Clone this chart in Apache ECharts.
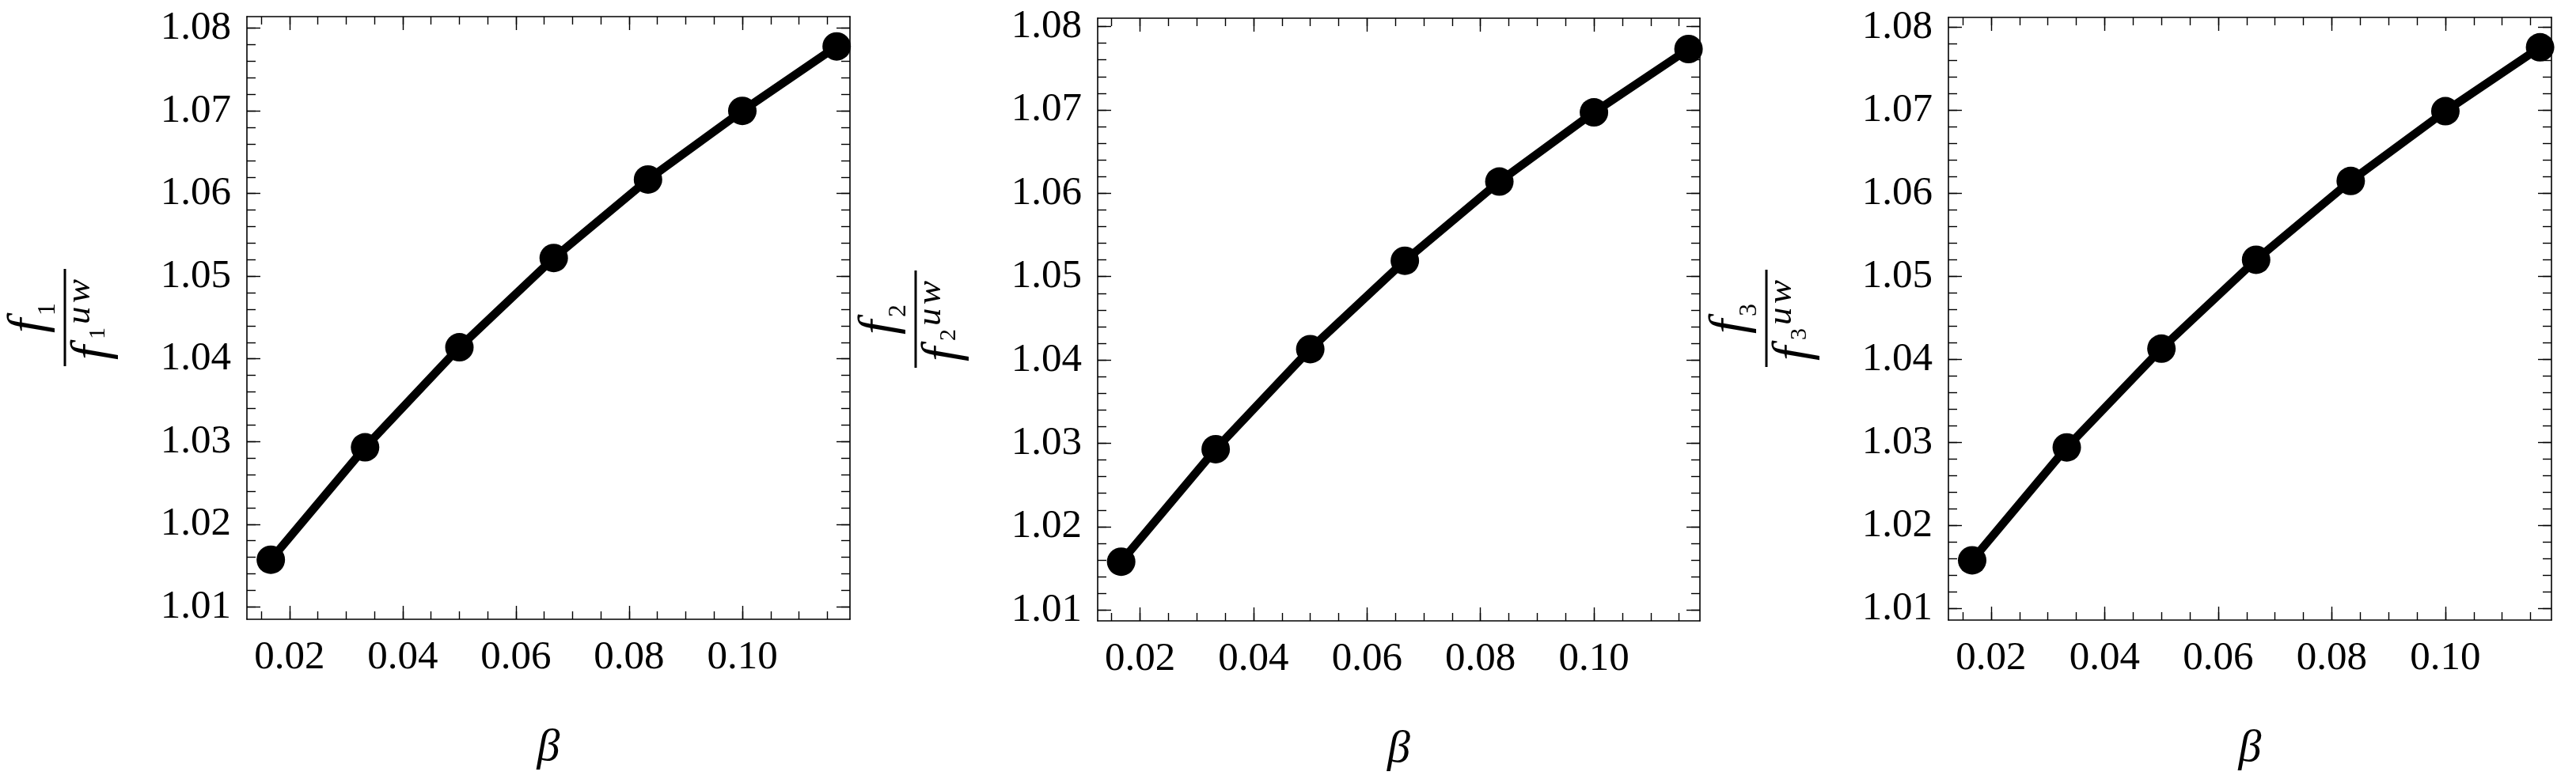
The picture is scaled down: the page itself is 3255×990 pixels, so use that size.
<!DOCTYPE html>
<html>
<head>
<meta charset="utf-8">
<script src="https://cdn.jsdelivr.net/npm/echarts@6/dist/echarts.min.js"></script>
<style>
html,body{margin:0;padding:0;background:#fff;}
#chart{width:3255px;height:990px;}
</style>
</head>
<body>
<div id="chart"></div>
<script>
// ---- data ----
const beta = [0.01667, 0.03333, 0.05, 0.06667, 0.08333, 0.10, 0.11667];
const f1Ratio = [1.0157, 1.0293, 1.0414, 1.0522, 1.0617, 1.0700, 1.0778];
const f2Ratio = [1.0158, 1.0293, 1.0413, 1.0519, 1.0614, 1.0697, 1.0773];
const f3Ratio = [1.0158, 1.0294, 1.0413, 1.0520, 1.0615, 1.0699, 1.0776];
const xMajorTicks = [0.02, 0.04, 0.06, 0.08, 0.10];
const xMinorTicks = [0.015, 0.02, 0.025, 0.03, 0.035, 0.04, 0.045, 0.05, 0.055, 0.06, 0.065,
  0.07, 0.075, 0.08, 0.085, 0.09, 0.095, 0.10, 0.105, 0.11, 0.115];
const yMajorTicks = [1.01, 1.02, 1.03, 1.04, 1.05, 1.06, 1.07, 1.08];
const yMinorTicks = [1.010, 1.012, 1.014, 1.016, 1.018, 1.020, 1.022, 1.024, 1.026, 1.028,
  1.030, 1.032, 1.034, 1.036, 1.038, 1.040, 1.042, 1.044, 1.046, 1.048,
  1.050, 1.052, 1.054, 1.056, 1.058, 1.060, 1.062, 1.064, 1.066, 1.068,
  1.070, 1.072, 1.074, 1.076, 1.078, 1.080];
const panelIndex = ['1', '2', '3'];
const xLabel = 'β';
const supLabel = ['u', 'w'];

// ---- layout ----
const panels = [
  {values: f1Ratio, left: 312, top: 21, width: 762, height: 762, xmin: 0.01245, xmax: 0.11902, ymin: 1.0085, ymax: 1.0814},
  {values: f2Ratio, left: 1387, top: 23, width: 761, height: 762, xmin: 0.01253, xmax: 0.11868, ymin: 1.0087, ymax: 1.0810},
  {values: f3Ratio, left: 2462, top: 22, width: 762, height: 762, xmin: 0.01249, xmax: 0.11868, ymin: 1.0086, ymax: 1.0812}
];
const FONT = '"Liberation Serif", "Times New Roman", Times, serif';
const black = '#000';

// text piece inside the rotated y-title frame; baseline given, drawn with middle alignment
function piece(text, x, baseline, size, italic, align) {
  return {type: 'text', x: x, y: baseline - 0.305 * size, silent: true,
    style: {text: text, fontFamily: FONT, fontSize: size, fontStyle: italic ? 'italic' : 'normal',
      fill: black, align: align || 'left', verticalAlign: 'middle'}};
}

function buildOption() {
  const grids = [], xAxes = [], yAxes = [], series = [], graphics = [];
  panels.forEach((p, g) => {
    grids.push({left: p.left, top: p.top, width: p.width, height: p.height});
    const lineOn = {show: true, lineStyle: {color: black, width: 1.6}};
    const base = {gridIndex: g, type: 'value', splitLine: {show: false}, scale: true};
    const tickStyle = {color: black, width: 1.4};
    xAxes.push(Object.assign({}, base, {
      min: p.xmin, max: p.xmax, position: 'bottom', axisLine: lineOn,
      axisTick: {show: true, inside: true, length: 17, customValues: xMajorTicks, lineStyle: tickStyle},
      axisLabel: {show: true, customValues: xMajorTicks, margin: 23, color: black, fontFamily: FONT, fontSize: 51,
        formatter: v => v.toFixed(2)},
      name: xLabel, nameLocation: 'middle', nameGap: 134,
      nameTextStyle: {fontFamily: FONT, fontStyle: 'italic', fontSize: 58, color: black}
    }));
    xAxes.push(Object.assign({}, base, {min: p.xmin, max: p.xmax, position: 'bottom', axisLine: {show: false},
      axisTick: {show: true, inside: true, length: 10, customValues: xMinorTicks, lineStyle: tickStyle}, axisLabel: {show: false}}));
    xAxes.push(Object.assign({}, base, {min: p.xmin, max: p.xmax, position: 'top', axisLine: lineOn,
      axisTick: {show: true, inside: true, length: 17, customValues: xMajorTicks, lineStyle: tickStyle}, axisLabel: {show: false}}));
    xAxes.push(Object.assign({}, base, {min: p.xmin, max: p.xmax, position: 'top', axisLine: {show: false},
      axisTick: {show: true, inside: true, length: 10, customValues: xMinorTicks, lineStyle: tickStyle}, axisLabel: {show: false}}));
    yAxes.push(Object.assign({}, base, {
      min: p.ymin, max: p.ymax, position: 'left', axisLine: lineOn,
      axisTick: {show: true, inside: true, length: 17, customValues: yMajorTicks, lineStyle: tickStyle},
      axisLabel: {show: true, customValues: yMajorTicks, margin: 20, color: black, fontFamily: FONT, fontSize: 51,
        formatter: v => v.toFixed(2)}
    }));
    yAxes.push(Object.assign({}, base, {min: p.ymin, max: p.ymax, position: 'left', axisLine: {show: false},
      axisTick: {show: true, inside: true, length: 11, customValues: yMinorTicks, lineStyle: tickStyle}, axisLabel: {show: false}}));
    yAxes.push(Object.assign({}, base, {min: p.ymin, max: p.ymax, position: 'right', axisLine: lineOn,
      axisTick: {show: true, inside: true, length: 17, customValues: yMajorTicks, lineStyle: tickStyle}, axisLabel: {show: false}}));
    yAxes.push(Object.assign({}, base, {min: p.ymin, max: p.ymax, position: 'right', axisLine: {show: false},
      axisTick: {show: true, inside: true, length: 11, customValues: yMinorTicks, lineStyle: tickStyle}, axisLabel: {show: false}}));

    series.push({
      type: 'line', xAxisIndex: g * 4, yAxisIndex: g * 4,
      data: beta.map((b, i) => [b, p.values[i]]),
      symbol: 'circle', symbolSize: 36, showSymbol: true,
      lineStyle: {color: black, width: 10.5}, itemStyle: {color: black},
      clip: true, silent: true, z: 5
    });

    // y-axis title: fraction f_k / (f_k)^uw, rotated 90°
    const k = panelIndex[g];
    graphics.push({
      type: 'group', x: p.left - 230, y: p.top + p.height / 2, rotation: Math.PI / 2,
      children: [
        piece('f', -10, -24, 65, true, 'center'),
        piece(k, 11, -12, 32, false, 'center'),
        {type: 'rect', shape: {x: -61, y: -1.5, width: 123, height: 3}, style: {fill: black}, silent: true},
        piece('f', -44, 56, 65, true, 'center'),
        piece(k, -19.5, 51, 30, false, 'center'),
        piece(supLabel[0], -8, 33, 45, true, 'left'),
        piece(supLabel[1], 19, 33, 45, true, 'left')
      ]
    });
  });
  return {animation: false, backgroundColor: '#fff', grid: grids, xAxis: xAxes, yAxis: yAxes, series: series, graphic: graphics};
}

const chart = echarts.init(document.getElementById('chart'), null, {renderer: 'canvas'});
chart.setOption(buildOption());
</script>
</body>
</html>
